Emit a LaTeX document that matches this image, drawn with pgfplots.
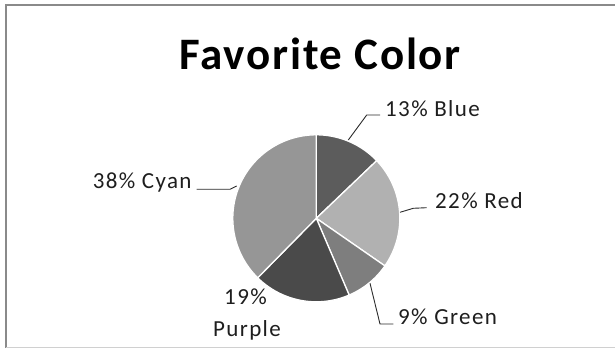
\documentclass[border=0pt]{standalone}
\usepackage{pgfplots}
\pgfplotsset{compat=1.18}
\usepackage{fontspec}
\setmainfont{Carlito}
\newfontfamily\titlefont[LetterSpace=4]{Carlito}
\newfontfamily\labfont[LetterSpace=6]{Carlito}
\definecolor{cBlue}{HTML}{5C5C5C}
\definecolor{cRed}{HTML}{B1B1B1}
\definecolor{cGreen}{HTML}{7E7E7E}
\definecolor{cPurple}{HTML}{4A4A4A}
\definecolor{cCyan}{HTML}{969696}
\definecolor{txt}{HTML}{1E1E1E}
\definecolor{lead}{HTML}{2A2A2A}
\definecolor{frame}{HTML}{8A8A8A}
% slice: cumulative start %, cumulative end %, colour (shares of total 101)
\newcommand{\slice}[3]{%
  \pgfmathsetmacro{\angA}{90-3.564356*#2}%
  \pgfmathsetmacro{\angB}{90-3.564356*#1}%
  \addplot[fill=#3, draw=white, line width=1.3bp, line join=round,
    domain=\angA:\angB, samples=80, variable=\t]
    ({83.5*cos(\t)}, {83.5*sin(\t)}) -- (axis cs:0,0) -- cycle;
}
\begin{document}
\begin{tikzpicture}
\path[use as bounding box] (0,0) rectangle (615bp,348bp);
\begin{axis}[
  at={(0,0)}, anchor=south west,
  width=615bp, height=348bp, scale only axis,
  hide axis, clip=false,
  xmin=-316.3, xmax=298.7, ymin=-129.7, ymax=218.3,
]
% Blue 13, Red 22, Green 9, Purple 19, Cyan 38
\slice{0}{13}{cBlue}
\slice{13}{35}{cRed}
\slice{35}{44}{cGreen}
\slice{44}{63}{cPurple}
\slice{63}{101}{cCyan}
% leader lines
\addplot[lead, line width=0.9bp] coordinates {(32,78.3) (50.4,103.3) (63.7,103.3)};
\addplot[lead, line width=0.9bp] coordinates {(83.7,6) (97,10) (110.4,10.6)};
\addplot[lead, line width=0.9bp] coordinates {(53.7,-65) (63.7,-105.7) (77,-105.7)};
\addplot[lead, line width=0.9bp] coordinates {(-119.6,29) (-86.3,29) (-79.6,32.3)};
% labels
\node[anchor=base west, inner sep=0pt, text=txt, font=\labfont\fontsize{23bp}{27bp}\selectfont] at (axis cs:68.7,101.3) {13\% Blue};
\node[anchor=base west, inner sep=0pt, text=txt, font=\labfont\fontsize{23bp}{27bp}\selectfont] at (axis cs:118.7,9.3) {22\% Red};
\node[anchor=base west, inner sep=0pt, text=txt, font=\labfont\fontsize{23bp}{27bp}\selectfont] at (axis cs:81.7,-105.7) {9\% Green};
\node[anchor=base east, inner sep=0pt, text=txt, font=\labfont\fontsize{23bp}{27bp}\selectfont] at (axis cs:-124.6,29.3) {38\% Cyan};
\node[anchor=base, inner sep=0pt, text=txt, font=\labfont\fontsize{23bp}{27bp}\selectfont] at (axis cs:-70.8,-86.7) {19\%};
\node[anchor=base, inner sep=0pt, text=txt, font=\labfont\fontsize{23bp}{27bp}\selectfont] at (axis cs:-69.3,-117.7) {Purple};
% title
\node[anchor=base, inner sep=0pt, text=black, font=\titlefont\bfseries\fontsize{45bp}{54bp}\selectfont] at (axis cs:3.7,148.3) {Favorite Color};
\end{axis}
\draw[frame, line width=1.2bp] (6bp,0) -- (6bp,343bp) -- (615bp,343bp);
\draw[frame!40, line width=0.8bp] (6bp,1bp) -- (615bp,1bp);
\end{tikzpicture}
\end{document}
